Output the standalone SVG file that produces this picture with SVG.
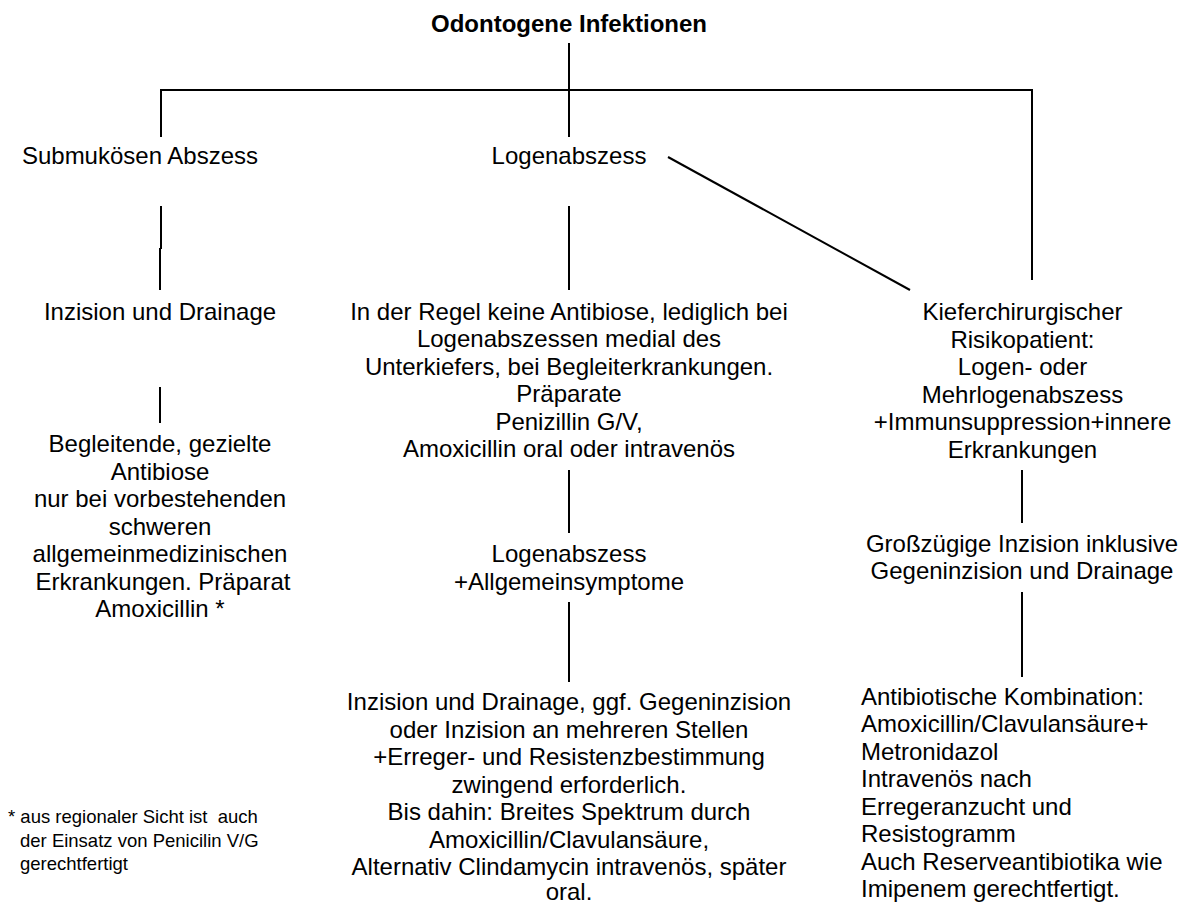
<svg xmlns="http://www.w3.org/2000/svg" width="1187" height="903" viewBox="0 0 1187 903">
<style>
text{font-family:"Liberation Sans",Arial,sans-serif;font-size:24px;fill:#000}
.c{text-anchor:middle}
.t{font-weight:bold}
.fn{font-size:18.5px}
.ln{stroke:#000;stroke-width:2;fill:none}
</style>
<rect width="1187" height="903" fill="#fff"/>
<g id="connectors" class="ln">
<line x1="569" y1="43" x2="569" y2="137"/>
<polyline points="161,137 161,90 1032,90 1032,280"/>
<line x1="668" y1="157" x2="910" y2="290"/>
<line x1="161" y1="206" x2="161" y2="249"/>
<line x1="160" y1="248" x2="160" y2="290"/>
<line x1="569" y1="206" x2="569" y2="290"/>
<line x1="160" y1="387" x2="160" y2="423"/>
<line x1="569" y1="470" x2="569" y2="533"/>
<line x1="569" y1="602" x2="569" y2="682"/>
<line x1="1022" y1="470" x2="1022" y2="523"/>
<line x1="1022" y1="592" x2="1022" y2="677"/>
</g>
<g id="title"><text class="c t" x="569" y="32">Odontogene Infektionen</text></g>
<g id="submukoes"><text class="c" x="140" y="164">Submukösen Abszess</text></g>
<g id="logen"><text class="c" x="569" y="164">Logenabszess</text></g>
<g id="inzision-left"><text class="c" x="160" y="320">Inzision und Drainage</text></g>
<g id="antibiose-left">
<text class="c" x="160" y="452">Begleitende, gezielte</text>
<text class="c" x="160" y="479.5">Antibiose</text>
<text class="c" x="160" y="507">nur bei vorbestehenden</text>
<text class="c" x="160" y="534.5">schweren</text>
<text class="c" x="160" y="562">allgemeinmedizinischen</text>
<text class="c" x="163" y="589.5">Erkrankungen. Präparat</text>
<text class="c" x="160" y="617">Amoxicillin *</text>
</g>
<g id="regel">
<text class="c" x="569" y="319.5">In der Regel keine Antibiose, lediglich bei</text>
<text class="c" x="569" y="347">Logenabszessen medial des</text>
<text class="c" x="569" y="374.5">Unterkiefers, bei Begleiterkrankungen.</text>
<text class="c" x="569" y="402">Präparate</text>
<text class="c" x="569" y="429.5">Penizillin G/V,</text>
<text class="c" x="569" y="457">Amoxicillin oral oder intravenös</text>
</g>
<g id="logen-allg">
<text class="c" x="569" y="562">Logenabszess</text>
<text class="c" x="569" y="589.5">+Allgemeinsymptome</text>
</g>
<g id="inzision-mid">
<text class="c" x="569" y="710">Inzision und Drainage, ggf. Gegeninzision</text>
<text class="c" x="569" y="737.5">oder Inzision an mehreren Stellen</text>
<text class="c" x="569" y="765">+Erreger- und Resistenzbestimmung</text>
<text class="c" x="569" y="792.5">zwingend erforderlich.</text>
<text class="c" x="569" y="820">Bis dahin: Breites Spektrum durch</text>
<text class="c" x="569" y="847.5">Amoxicillin/Clavulansäure,</text>
<text class="c" x="569" y="875">Alternativ Clindamycin intravenös, später</text>
<text class="c" x="569" y="900">oral.</text>
</g>
<g id="risiko">
<text class="c" x="1022.5" y="320">Kieferchirurgischer</text>
<text class="c" x="1022.5" y="347.5">Risikopatient:</text>
<text class="c" x="1022.5" y="375">Logen- oder</text>
<text class="c" x="1022.5" y="402.5">Mehrlogenabszess</text>
<text class="c" x="1022.5" y="430">+Immunsuppression+innere</text>
<text class="c" x="1022.5" y="457.5">Erkrankungen</text>
</g>
<g id="grosszuegig">
<text class="c" x="1022" y="551.5">Großzügige Inzision inklusive</text>
<text class="c" x="1022" y="579">Gegeninzision und Drainage</text>
</g>
<g id="kombination">
<text x="861" y="704.5">Antibiotische Kombination:</text>
<text x="861" y="732">Amoxicillin/Clavulansäure+</text>
<text x="861" y="759.5">Metronidazol</text>
<text x="861" y="787">Intravenös nach</text>
<text x="861" y="814.5">Erregeranzucht und</text>
<text x="861" y="842">Resistogramm</text>
<text x="861" y="869.5">Auch Reserveantibiotika wie</text>
<text x="861" y="897">Imipenem gerechtfertigt.</text>
</g>
<g id="footnote">
<text class="fn" x="8" y="823" xml:space="preserve">* aus regionaler Sicht ist  auch</text>
<text class="fn" x="20" y="846.5">der Einsatz von Penicilin V/G</text>
<text class="fn" x="20" y="870">gerechtfertigt</text>
</g>
</svg>
